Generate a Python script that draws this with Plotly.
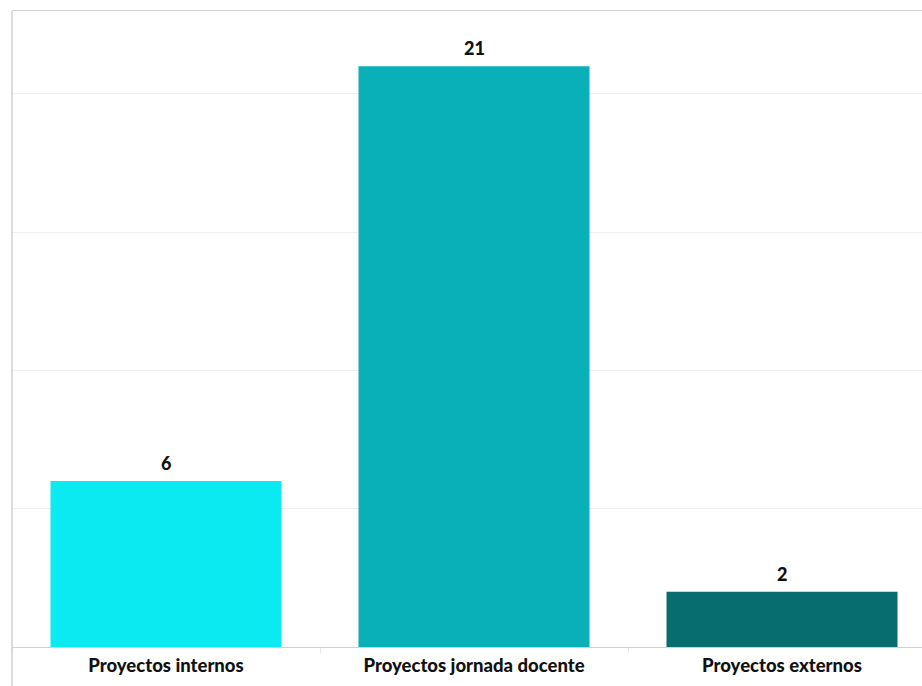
import plotly.graph_objects as go

categories = ["Proyectos internos", "Proyectos jornada docente", "Proyectos externos"]
values = [6, 21, 2]
colors = ["#0BE9F1", "#09B0B8", "#076D6F"]

fig = go.Figure()
fig.add_trace(go.Bar(
    x=categories, y=values, marker=dict(color=colors, line=dict(width=0)),
    width=0.75, hoverinfo="skip",
))

for c, v in zip(categories, values):
    fig.add_annotation(x=c, y=v, text=str(v), showarrow=False,
                       yanchor="bottom", yshift=5,
                       font=dict(family="Lato", size=18, weight=900, color="#111111"))

H, T, B = 686, 11, 39
fig.add_shape(type="line", xref="paper", yref="paper", x0=0, x1=0,
              y0=1, y1=-B / (H - T - B), line=dict(color="#d0d0d0", width=1.5),
              layer="above")

fig.update_layout(
    width=936, height=H,
    margin=dict(l=12, r=0, t=T, b=B),
    paper_bgcolor="white", plot_bgcolor="white",
    showlegend=False,
    font=dict(family="Lato", size=16, color="#111111"),
    xaxis=dict(
        range=[-0.5, 2.5], showline=True, linecolor="#d0d0d0", linewidth=1.2,
        mirror=True, ticks="outside", tickson="boundaries", ticklen=5,
        tickcolor="#e6e6e6", showgrid=False, ticklabelstandoff=2,
        tickfont=dict(family="Lato", size=18.5, weight=900, color="#111111"),
    ),
    yaxis=dict(
        range=[0, 23], showline=False,
        showticklabels=False, ticks="", dtick=5, showgrid=True,
        gridcolor="#efefef", gridwidth=1, zeroline=False,
    ),
)

fig.write_html("out.html", config={"displayModeBar": False},
               post_script="document.body.style.margin='0';document.body.style.overflow='hidden';")
